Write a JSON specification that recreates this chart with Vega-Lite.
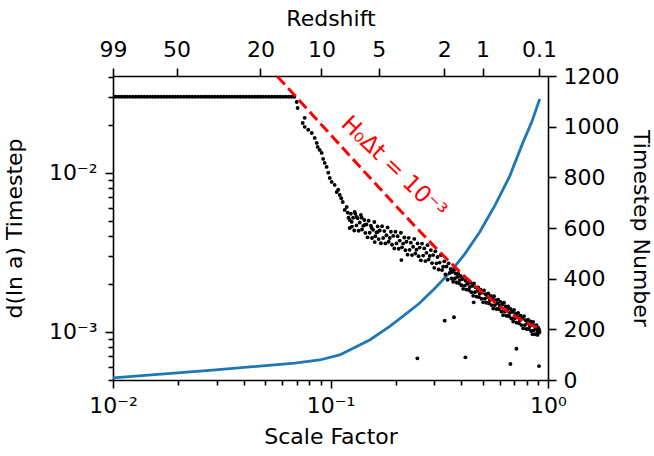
{
"$schema": "https://vega.github.io/schema/vega-lite/v6.json",
"width": 435, "height": 304,
"autosize": {"type": "none"},
"padding": {"left": 113, "top": 76, "right": 106, "bottom": 76},
"config": {
  "font": "DejaVu Sans",
  "view": {"stroke": null},
  "axis": {"labelFont": "DejaVu Sans", "titleFont": "DejaVu Sans", "labelFontSize": 22, "titleFontSize": 22, "titleFontWeight": "normal", "labelColor": "black", "titleColor": "black", "domainColor": "black", "tickColor": "black", "domainWidth": 1.6, "tickWidth": 1.6, "grid": false, "labelFlush": false, "labelOverlap": false, "labelBound": false}
},
"datasets": {
  "red": [{"a":0.057,"v":0.04026},{"a":0.06,"v":0.03728},{"a":0.07,"v":0.02959},{"a":0.08,"v":0.02422},{"a":0.1,"v":0.01734},{"a":0.12,"v":0.0132},{"a":0.15,"v":0.00947},{"a":0.2,"v":0.00618},{"a":0.25,"v":0.004461},{"a":0.3,"v":0.003437},{"a":0.4,"v":0.002321},{"a":0.5,"v":0.001761},{"a":0.6,"v":0.001445},{"a":0.7,"v":0.001255},{"a":0.8,"v":0.001134},{"a":0.909,"v":0.0010485}],
  "blue": [{"a":0.01,"n":8},{"a":0.0287,"n":39},{"a":0.0685,"n":67},{"a":0.0892,"n":79},{"a":0.1102,"n":99},{"a":0.1292,"n":128},{"a":0.1514,"n":158},{"a":0.1872,"n":212},{"a":0.2194,"n":257},{"a":0.2571,"n":304},{"a":0.3013,"n":361},{"a":0.3533,"n":424},{"a":0.414,"n":497},{"a":0.4853,"n":584},{"a":0.5687,"n":687},{"a":0.667,"n":805},{"a":0.7649,"n":935},{"a":0.8417,"n":1018},{"a":0.9158,"n":1109}],
  "pts": [
{"a":0.01,"v":0.03},{"a":0.0103,"v":0.03},{"a":0.01062,"v":0.03},{"a":0.01094,"v":0.03},{"a":0.01128,"v":0.03},{"a":0.01162,"v":0.03},{"a":0.01197,"v":0.03},{"a":0.01234,"v":0.03},{"a":0.01271,"v":0.03},{"a":0.0131,"v":0.03},{"a":0.0135,"v":0.03},{"a":0.01391,"v":0.03},{"a":0.01433,"v":0.03},{"a":0.01477,"v":0.03},{"a":0.01522,"v":0.03},{"a":0.01568,"v":0.03},{"a":0.01616,"v":0.03},{"a":0.01665,"v":0.03},{"a":0.01716,"v":0.03},{"a":0.01768,"v":0.03},{"a":0.01822,"v":0.03},{"a":0.01878,"v":0.03},{"a":0.01935,"v":0.03},{"a":0.01994,"v":0.03},{"a":0.02054,"v":0.03},{"a":0.02117,"v":0.03},{"a":0.02182,"v":0.03},{"a":0.02248,"v":0.03},{"a":0.02316,"v":0.03},{"a":0.02387,"v":0.03},{"a":0.0246,"v":0.03},{"a":0.02535,"v":0.03},{"a":0.02612,"v":0.03},{"a":0.02691,"v":0.03},{"a":0.02773,"v":0.03},{"a":0.02858,"v":0.03},{"a":0.02945,"v":0.03},{"a":0.03034,"v":0.03},{"a":0.03127,"v":0.03},{"a":0.03222,"v":0.03},{"a":0.0332,"v":0.03},{"a":0.03421,"v":0.03},{"a":0.03525,"v":0.03},{"a":0.03633,"v":0.03},{"a":0.03743,"v":0.03},{"a":0.03857,"v":0.03},{"a":0.03975,"v":0.03},{"a":0.04096,"v":0.03},{"a":0.04221,"v":0.03},{"a":0.04349,"v":0.03},{"a":0.04482,"v":0.03},{"a":0.04618,"v":0.03},{"a":0.04759,"v":0.03},{"a":0.04904,"v":0.03},{"a":0.05053,"v":0.03},{"a":0.05207,"v":0.03},{"a":0.05366,"v":0.03},{"a":0.05529,"v":0.03},{"a":0.05697,"v":0.03},{"a":0.05871,"v":0.03},{"a":0.0605,"v":0.03},{"a":0.06234,"v":0.03},{"a":0.06424,"v":0.03},{"a":0.06619,"v":0.03},{"a":0.06821,"v":0.03},
{"a":0.0699,"v":0.0278},{"a":0.0706,"v":0.0255},{"a":0.0745,"v":0.0205},{"a":0.0761,"v":0.0221},{"a":0.0761,"v":0.0194},{"a":0.079,"v":0.0186},{"a":0.082,"v":0.01776},{"a":0.0846,"v":0.01653},{"a":0.0864,"v":0.01537},{"a":0.0873,"v":0.01451},{"a":0.0892,"v":0.0139},{"a":0.0911,"v":0.0133},{"a":0.0925,"v":0.0122},{"a":0.094,"v":0.01151},{"a":0.096,"v":0.01086},{"a":0.0976,"v":0.01},{"a":0.0992,"v":0.00926},{"a":0.1013,"v":0.00874},{"a":0.1045,"v":0.00837},{"a":0.1068,"v":0.00756},{"a":0.1085,"v":0.0078},{"a":0.1102,"v":0.00724},{"a":0.112,"v":0.0069},{"a":0.1138,"v":0.00654},{"a":0.1162,"v":0.00583},{"a":0.1187,"v":0.00608},{"a":0.12,"v":0.0056},{"a":0.121,"v":0.0052},{"a":0.1225,"v":0.00449},{"a":0.1252,"v":0.0049},{"a":0.1292,"v":0.00566},{"a":0.132,"v":0.00526},{"a":0.1391,"v":0.00521},{"a":0.1436,"v":0.00469},{"a":0.1547,"v":0.00449},{"a":0.1648,"v":0.00424},{"a":0.1597,"v":0.00366},
{"a":0.1225,"v":0.00504},{"a":0.124,"v":0.00551},{"a":0.1255,"v":0.00458},{"a":0.1271,"v":0.0052},{"a":0.1286,"v":0.00433},{"a":0.1301,"v":0.00551},{"a":0.1316,"v":0.00466},{"a":0.1332,"v":0.00516},{"a":0.1347,"v":0.00431},
{"a":0.1362,"v":0.00486},{"a":0.1379,"v":0.00542},{"a":0.1396,"v":0.00439},{"a":0.1413,"v":0.00463},{"a":0.143,"v":0.00504},{"a":0.1446,"v":0.00418},{"a":0.1463,"v":0.00472},{"a":0.148,"v":0.00392},{"a":0.1497,"v":0.00498},
{"a":0.1514,"v":0.00419},{"a":0.1533,"v":0.00464},{"a":0.1552,"v":0.00388},{"a":0.1571,"v":0.00437},{"a":0.159,"v":0.00489},{"a":0.1608,"v":0.00398},{"a":0.1627,"v":0.0042},{"a":0.1646,"v":0.00459},{"a":0.1665,"v":0.00382},
{"a":0.1684,"v":0.00433},{"a":0.1705,"v":0.0036},{"a":0.1726,"v":0.0046},{"a":0.1747,"v":0.00388},{"a":0.1768,"v":0.00429},{"a":0.1788,"v":0.00359},{"a":0.1809,"v":0.00404},{"a":0.183,"v":0.00452},{"a":0.1851,"v":0.00368},
{"a":0.1872,"v":0.00388},{"a":0.1895,"v":0.00425},{"a":0.1918,"v":0.00352},{"a":0.1942,"v":0.004},{"a":0.1965,"v":0.00334},{"a":0.1988,"v":0.00425},{"a":0.2011,"v":0.00359},{"a":0.2034,"v":0.00398},{"a":0.2058,"v":0.00332},
{"a":0.2081,"v":0.00374},{"a":0.2107,"v":0.00419},{"a":0.2132,"v":0.00339},{"a":0.2158,"v":0.00358},{"a":0.2184,"v":0.00391},{"a":0.221,"v":0.00325},{"a":0.2235,"v":0.00368},{"a":0.2261,"v":0.00305},{"a":0.2287,"v":0.00389},
{"a":0.2312,"v":0.00327},{"a":0.2341,"v":0.00363},{"a":0.237,"v":0.00303},{"a":0.2398,"v":0.00342},{"a":0.2427,"v":0.00383},{"a":0.2456,"v":0.0031},{"a":0.2485,"v":0.00328},{"a":0.2514,"v":0.00359},{"a":0.2542,"v":0.00298},
{"a":0.2571,"v":0.00338},{"a":0.2603,"v":0.00281},{"a":0.2635,"v":0.00358},{"a":0.2667,"v":0.00301},{"a":0.2699,"v":0.00334},{"a":0.273,"v":0.00278},{"a":0.2762,"v":0.00313},{"a":0.2794,"v":0.0035},{"a":0.2826,"v":0.00284},
{"a":0.2858,"v":0.00299},{"a":0.2893,"v":0.00326},{"a":0.2929,"v":0.0027},{"a":0.2964,"v":0.00303},{"a":0.3,"v":0.00252},{"a":0.3035,"v":0.0032},{"a":0.307,"v":0.00269},{"a":0.3106,"v":0.00295},{"a":0.3141,"v":0.00246},
{"a":0.3177,"v":0.00272},{"a":0.3217,"v":0.00303},{"a":0.3256,"v":0.00244},{"a":0.3296,"v":0.00256},{"a":0.3335,"v":0.00277},{"a":0.3375,"v":0.00229},{"a":0.3415,"v":0.00257},{"a":0.3454,"v":0.00212},{"a":0.3494,"v":0.00269},
{"a":0.3533,"v":0.00234},{"a":0.3566,"v":0.00248},{"a":0.3599,"v":0.00216},{"a":0.3631,"v":0.00237},{"a":0.3664,"v":0.00206},{"a":0.3697,"v":0.00244},{"a":0.373,"v":0.00216},{"a":0.3762,"v":0.00232},{"a":0.3795,"v":0.00204},{"a":0.3828,"v":0.00221},{"a":0.3861,"v":0.00232},{"a":0.3893,"v":0.00202},
{"a":0.3926,"v":0.00211},{"a":0.3963,"v":0.00224},{"a":0.3999,"v":0.00196},{"a":0.4036,"v":0.00214},{"a":0.4073,"v":0.00186},{"a":0.4109,"v":0.00221},{"a":0.4146,"v":0.00195},{"a":0.4183,"v":0.00209},{"a":0.4219,"v":0.00184},{"a":0.4256,"v":0.002},{"a":0.4293,"v":0.0021},{"a":0.4329,"v":0.00183},
{"a":0.4366,"v":0.00191},{"a":0.4407,"v":0.00203},{"a":0.4447,"v":0.00177},{"a":0.4488,"v":0.00194},{"a":0.4528,"v":0.00168},{"a":0.4569,"v":0.00201},{"a":0.4609,"v":0.00177},{"a":0.465,"v":0.0019},{"a":0.4691,"v":0.00166},{"a":0.4731,"v":0.00181},{"a":0.4772,"v":0.0019},{"a":0.4812,"v":0.00165},
{"a":0.4853,"v":0.00173},{"a":0.4899,"v":0.00184},{"a":0.4944,"v":0.00161},{"a":0.499,"v":0.00176},{"a":0.5035,"v":0.00153},{"a":0.5081,"v":0.00182},{"a":0.5126,"v":0.00161},{"a":0.5172,"v":0.00172},{"a":0.5217,"v":0.00152},{"a":0.5263,"v":0.00165},{"a":0.5308,"v":0.00174},{"a":0.5354,"v":0.00151},
{"a":0.5399,"v":0.00158},{"a":0.5449,"v":0.00168},{"a":0.5498,"v":0.00147},{"a":0.5548,"v":0.00161},{"a":0.5598,"v":0.0014},{"a":0.5648,"v":0.00167},{"a":0.5698,"v":0.00147},{"a":0.5747,"v":0.00158},{"a":0.5797,"v":0.00139},{"a":0.5847,"v":0.00151},{"a":0.5897,"v":0.00159},{"a":0.5946,"v":0.00139},
{"a":0.5996,"v":0.00145},{"a":0.6052,"v":0.00154},{"a":0.6108,"v":0.00134},{"a":0.6165,"v":0.00148},{"a":0.6221,"v":0.00127},{"a":0.6277,"v":0.00152},{"a":0.6333,"v":0.00134},{"a":0.6389,"v":0.00144},{"a":0.6445,"v":0.00126},{"a":0.6502,"v":0.00137},{"a":0.6558,"v":0.00144},{"a":0.6614,"v":0.00125},
{"a":0.667,"v":0.00131},{"a":0.6732,"v":0.00139},{"a":0.6794,"v":0.00121},{"a":0.6856,"v":0.00133},{"a":0.6918,"v":0.00116},{"a":0.698,"v":0.00137},{"a":0.7042,"v":0.00121},{"a":0.7103,"v":0.0013},{"a":0.7165,"v":0.00114},{"a":0.7227,"v":0.00124},{"a":0.7289,"v":0.00131},{"a":0.7351,"v":0.00113},
{"a":0.7413,"v":0.001185},{"a":0.7482,"v":0.00126},{"a":0.7551,"v":0.0011},{"a":0.762,"v":0.00121},{"a":0.7689,"v":0.00105},{"a":0.7758,"v":0.00125},{"a":0.7827,"v":0.0011},{"a":0.7895,"v":0.00118},{"a":0.7964,"v":0.00104},{"a":0.8033,"v":0.00113},{"a":0.8102,"v":0.00119},{"a":0.8171,"v":0.00104},
{"a":0.824,"v":0.001086},{"a":0.8301,"v":0.00116},{"a":0.8362,"v":0.00101},{"a":0.8422,"v":0.00111},{"a":0.8483,"v":0.000965},{"a":0.8544,"v":0.00115},{"a":0.8605,"v":0.00102},{"a":0.8665,"v":0.00109},{"a":0.8726,"v":0.000963},{"a":0.8787,"v":0.00105},{"a":0.8848,"v":0.0011},{"a":0.8908,"v":0.000965},
{"a":0.8969,"v":0.00101},{"a":0.905,"v":0.000985},{"a":0.91,"v":0.00103},{"a":0.914,"v":0.000995},{"a":0.895,"v":0.000955},{"a":0.902,"v":0.00106},
{"a":0.4554,"v":0.00153},{"a":0.3696,"v":0.001232},{"a":0.335,"v":0.001173},{"a":0.2509,"v":0.00068},{"a":0.4171,"v":0.00069},{"a":0.7157,"v":0.000781},{"a":0.6717,"v":0.000626},{"a":0.9092,"v":0.000608},{"a":0.2118,"v":0.00282}
  ]
},
"layer": [
  {
    "data": {"name": "blue"},
    "mark": {"type": "line", "color": "#1f77b4", "strokeWidth": 2.8, "clip": true},
    "encoding": {
      "x": {"field": "a", "type": "quantitative", "scale": {"type": "log", "domain": [0.01, 1], "nice": false},
        "axis": {"orient": "top", "title": "Redshift", "values": [0.01, 0.0196078, 0.047619, 0.0909091, 0.1666667, 0.3333333, 0.5, 0.9090909],
          "labelExpr": "datum.value > 0.9 ? '0.1' : format(round(1/datum.value - 1), 'd')",
          "tickSize": 8, "labelPadding": 7, "titlePadding": 8}},
      "y": {"field": "n", "type": "quantitative", "scale": {"type": "linear", "domain": [0, 1200], "nice": false, "zero": false},
        "axis": {"orient": "right", "title": "Timestep Number", "values": [0, 200, 400, 600, 800, 1000, 1200], "format": "d", "tickSize": 8, "labelPadding": 7, "titlePadding": 10}}
    }
  },
  {
    "data": {"name": "pts"},
    "mark": {"type": "point", "filled": true, "color": "black", "size": 15, "opacity": 1, "strokeWidth": 0, "clip": true},
    "encoding": {
      "x": {"field": "a", "type": "quantitative",
        "axis": {"orient": "bottom", "title": "Scale Factor", "values": [0.01, 0.1, 1],
          "labelExpr": "datum.value == 0.01 ? '10⁻²' : datum.value == 0.1 ? '10⁻¹' : '10⁰'",
          "tickSize": 8, "labelPadding": 7, "titlePadding": 10}},
      "y": {"field": "v", "type": "quantitative", "scale": {"type": "log", "domain": [0.000497, 0.0405], "nice": false},
        "axis": {"orient": "left", "title": "d(ln a) Timestep", "values": [0.001, 0.01],
          "labelExpr": "datum.value == 0.01 ? '10⁻²' : '10⁻³'",
          "tickSize": 8, "labelPadding": 8, "titlePadding": 22}}
    }
  },
  {
    "data": {"name": "red"},
    "mark": {"type": "line", "color": "#ff0000", "strokeWidth": 3, "strokeDash": [11, 5], "clip": true},
    "encoding": {
      "x": {"field": "a", "type": "quantitative",
        "axis": {"orient": "bottom", "values": [0.02, 0.03, 0.04, 0.05, 0.06, 0.07, 0.08, 0.09, 0.2, 0.3, 0.4, 0.5, 0.6, 0.7, 0.8, 0.9], "labels": false, "domain": false, "title": null, "tickSize": 5}},
      "y": {"field": "v", "type": "quantitative", "scale": {"type": "log", "domain": [0.000497, 0.0405], "nice": false},
        "axis": {"orient": "left", "values": [0.0005, 0.0006, 0.0007, 0.0008, 0.0009, 0.002, 0.003, 0.004, 0.005, 0.006, 0.007, 0.008, 0.009, 0.02, 0.03, 0.04], "labels": false, "domain": false, "title": null, "tickSize": 5}}
    }
  },
  {
    "data": {"values": [{}]},
    "mark": {"type": "text", "text": "H₀Δt = 10⁻³", "color": "#ff0000", "fontSize": 23, "angle": 44, "font": "DejaVu Sans", "align": "center", "baseline": "middle"},
    "encoding": {
      "x": {"datum": 0.195, "type": "quantitative", "axis": null},
      "y": {"datum": 0.0108, "type": "quantitative", "scale": {"type": "log", "domain": [0.000497, 0.0405], "nice": false}, "axis": null}
    }
  }
],
"resolve": {"scale": {"y": "independent"}, "axis": {"x": "independent", "y": "independent"}}
}
